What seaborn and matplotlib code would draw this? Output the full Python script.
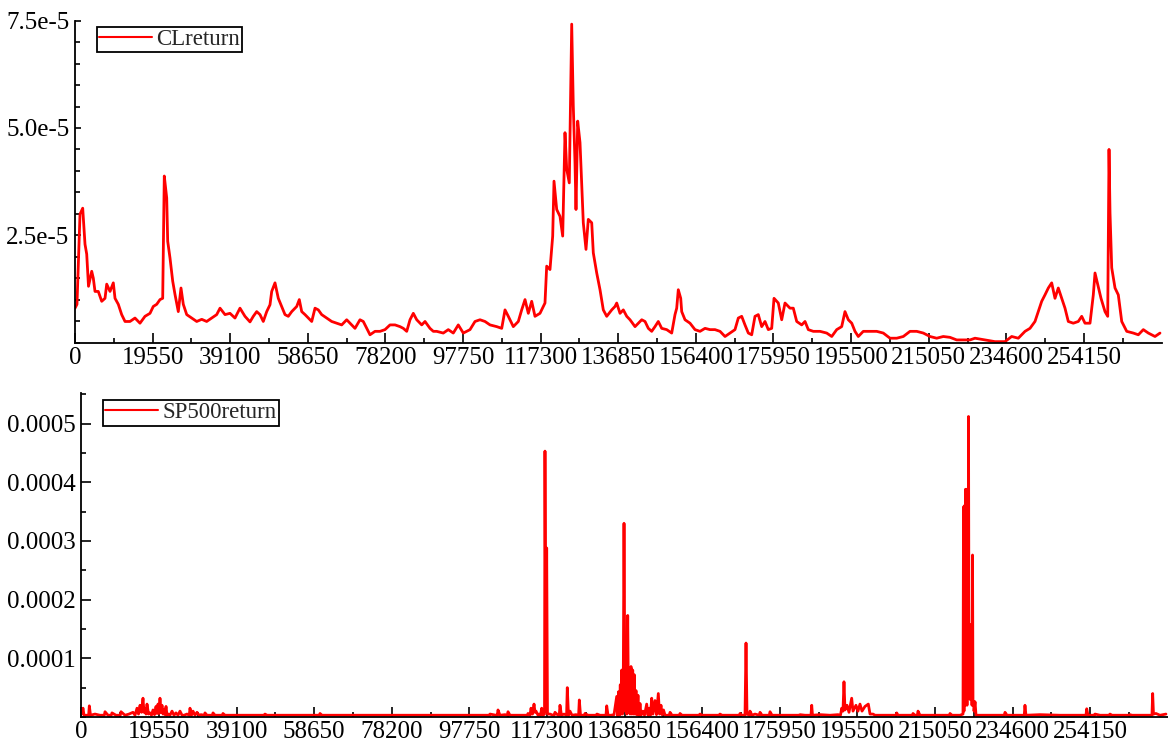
import matplotlib
matplotlib.use("Agg")
import matplotlib.pyplot as plt
import numpy as np
import pandas as pd
import seaborn as sns
from matplotlib.ticker import FixedLocator, MultipleLocator

# ---- data -------------------------------------------------------------
# CL return conditional variance (observation number, value in 1e-5)
cl_obs = [0, 500, 1260, 1940, 2520, 2950, 3400, 4210, 4610, 5040, 5870, 6730, 7560, 7990, 8820, 9650,
          10080, 10910, 11760, 12600, 13850, 15110, 16370, 17630, 18890, 19720, 20580, 21410, 22090,
          22490, 23100, 23350, 23930, 24610, 25190, 26020, 26700, 27280, 28140, 29400, 30660, 31920,
          33170, 34430, 35690, 36530, 37790, 39040, 40300, 41560, 42820, 44080, 44910, 45770, 46600,
          47430, 48290, 49120, 49550, 50380, 51210, 52070, 52900, 53730, 54590, 55850, 56500, 57110,
          57940, 58770, 59630, 60460, 61290, 62140, 63400, 64660, 65920, 67180, 68440, 69270, 70530,
          71790, 72620, 73480, 74310, 75570, 76830, 78090, 79350, 80610, 81870, 82700, 83560, 84390,
          85220, 86080, 87340, 88170, 89420, 90260, 91110, 92770, 94030, 95290, 96550, 97810, 99500,
          100760, 102020, 103280, 104540, 106230, 107490, 108320, 109150, 110410, 111670, 112520,
          113360, 114190, 115040, 115870, 117130, 118390, 118820, 119650, 120330, 120660, 121340,
          122170, 122850, 123430, 123860, 124510, 125120, 125520, 125950, 126200, 126630, 127210,
          127640, 128040, 128720, 129300, 130160, 130560, 131420, 132250, 133080, 133940, 135200,
          136030, 136460, 137290, 138120, 138980, 139810, 141070, 141900, 142760, 143590, 144420,
          145270, 146100, 146930, 147790, 149050, 150310, 151140, 151570, 151970, 152580, 152830,
          153660, 154920, 156180, 157440, 158700, 159960, 161220, 162480, 163740, 164990, 166250,
          167090, 167940, 168770, 169610, 170460, 171290, 172120, 172980, 173810, 174640, 175500,
          176080, 177160, 178020, 178850, 180110, 180940, 181800, 183060, 183890, 184720, 185980,
          187670, 189360, 190620, 191870, 193130, 193960, 194800, 195660, 196480, 197310, 198570,
          200260, 201950, 203610, 205300, 206990, 208650, 210340, 212030, 213690, 215370, 217060,
          218720, 220410, 222100, 223760, 225450, 226710, 229230, 231750, 234270, 235950, 237620,
          239310, 240560, 241820, 242660, 243510, 244340, 245180, 246030, 246860, 247690, 248550,
          249380, 250210, 251470, 252730, 253590, 254420, 255680, 256510, 256940, 257620, 258450,
          259460, 260140, 260470, 260720, 261150, 261980, 262810, 263670, 264930, 266590, 267850,
          269110, 270370, 272050, 273310]
cl_ret = [0.80, 0.89, 2.99, 3.13, 2.29, 2.06, 1.31, 1.66, 1.50, 1.19, 1.19, 0.96, 1.03, 1.36, 1.19, 1.39,
          1.03, 0.89, 0.65, 0.49, 0.49, 0.57, 0.45, 0.61, 0.68, 0.84, 0.89, 1.00, 1.03,
          3.88, 3.37, 2.36, 1.97, 1.43, 1.12, 0.72, 1.27, 0.89, 0.65, 0.57, 0.49, 0.54,
          0.49, 0.57, 0.65, 0.80, 0.65, 0.68, 0.57, 0.80, 0.61, 0.48, 0.61, 0.72, 0.65,
          0.49, 0.72, 0.88, 1.19, 1.39, 1.03, 0.84, 0.65, 0.61, 0.72, 0.84, 1.00, 0.72,
          0.65, 0.57, 0.49, 0.80, 0.76, 0.65, 0.57, 0.49, 0.45, 0.41, 0.53, 0.45, 0.33,
          0.53, 0.49, 0.33, 0.18, 0.26, 0.26, 0.30, 0.41, 0.41, 0.37, 0.33, 0.26, 0.53,
          0.68, 0.53, 0.41, 0.49, 0.33, 0.26, 0.26, 0.22, 0.30, 0.22, 0.41, 0.22, 0.30,
          0.49, 0.53, 0.49, 0.41, 0.37, 0.33, 0.76, 0.61, 0.37, 0.49, 0.76,
          1.00, 0.68, 0.96, 0.61, 0.68, 0.92, 1.78, 1.70, 2.48, 3.76, 3.10,
          2.94, 2.48, 4.89, 4.04, 3.72, 7.42, 5.51, 4.19, 3.10, 5.16, 4.66,
          3.72, 2.79, 2.17, 2.87, 2.79, 2.09, 1.62, 1.23, 0.76, 0.61, 0.76,
          0.84, 0.92, 0.68, 0.76, 0.61, 0.53, 0.37, 0.45, 0.53, 0.49, 0.33,
          0.26, 0.37, 0.49, 0.33, 0.30, 0.22, 0.65, 0.80, 1.23, 1.03, 0.72,
          0.53, 0.45, 0.30, 0.26, 0.33, 0.30, 0.30, 0.26, 0.14, 0.22, 0.30,
          0.57, 0.61, 0.41, 0.22, 0.18, 0.61, 0.65, 0.37, 0.49, 0.30, 0.33,
          1.03, 0.92, 0.53, 0.92, 0.80, 0.80, 0.49, 0.41, 0.49, 0.30, 0.26,
          0.26, 0.22, 0.14, 0.30, 0.37, 0.72, 0.53, 0.45, 0.26, 0.14, 0.26,
          0.26, 0.26, 0.22, 0.10, 0.10, 0.14, 0.26, 0.26, 0.22, 0.14, 0.10,
          0.14, 0.12, 0.06, 0.06, 0.06, 0.10, 0.06, 0.02, 0.02, 0.14, 0.10,
          0.26, 0.33, 0.49, 0.72, 0.96, 1.11, 1.27, 1.39, 1.03, 1.27, 1.03,
          0.80, 0.49, 0.45, 0.49, 0.61, 0.45, 0.45, 1.11, 1.62, 1.35, 1.03,
          0.72, 0.61, 4.50, 3.02, 1.74, 1.27, 1.11, 0.49, 0.26, 0.22, 0.18,
          0.30, 0.22, 0.14, 0.22]

# SP500 return conditional variance (observation number, value in 1e-4)
sp_obs = [0, 430, 680, 1850, 2020, 2320, 3450, 4710, 5800, 5970,
          6730, 7550, 7730, 8740, 9820, 10000, 11010, 12020, 13020, 13530,
          14030, 14410, 14790, 15170, 15540, 15790, 16050, 16300, 16550, 16930,
          17310, 17680, 18060, 18440, 18820, 19070, 19320, 19570, 19820, 20080,
          20330, 20580, 20830, 21080, 21340, 21590, 21970, 22340, 22850, 23350,
          23850, 24360, 24860, 25370, 25870, 26630, 27200, 27380, 27760, 28140,
          28640, 29150, 29650, 30150, 30980, 31160, 31660, 32420, 33000, 33180,
          33680, 35510, 35690, 36200, 38720, 41240, 46090, 46270, 46780, 52570,
          59950, 60130, 60630, 67690, 75250, 85320, 94140, 100440, 102780, 102960,
          104470, 104790, 104970, 105470, 106730, 107310, 107490, 107990, 110510, 112340,
          112520, 113030, 113280, 113660, 114040, 114290, 114540, 115050, 115300, 115670,
          115980, 116300, 116680, 116800, 117050, 117230, 117430, 118060, 118820, 119140,
          119320, 120080, 120400, 120580, 120960, 121590, 122240, 122420, 122720, 123100,
          123600, 124610, 125270, 125450, 125750, 126700, 126880, 127640, 128650, 129720,
          129900, 130660, 131420, 132170, 132350, 132680, 133430, 134190, 134870, 135070,
          135320, 135520, 135770, 135950, 136130, 136330, 136530, 136710, 136960, 137210,
          137410, 137640, 137840, 138040, 138220, 138470, 138670, 138900, 139100, 139300,
          139480, 139730, 139930, 140230, 140480, 140740, 140990, 141490, 141870, 142420,
          142750, 143130, 143380, 143680, 144010, 144510, 144890, 145350, 145650, 146030,
          146280, 146660, 147040, 148120, 148300, 148800, 149560, 150640, 150820, 151320,
          153340, 155670, 155850, 156360, 158370, 160710, 160890, 161400, 163410, 165750,
          165930, 166440, 167190, 167440, 167690, 168270, 168450, 168950, 169710, 170790,
          170970, 171470, 172230, 173310, 173490, 173990, 176000, 178520, 180860, 181040,
          182300, 183810, 183990, 184190, 186080, 188600, 190610, 191240, 191550, 191870,
          192120, 192370, 192880, 193380, 194060, 194390, 195140, 195650, 196150, 196660,
          197410, 198250, 198680, 199430, 199940, 201200, 203720, 205220, 205400, 205730,
          209330, 209510, 210010, 210600, 210770, 211270, 215050, 218650, 218830, 219330,
          221350, 222100, 222230, 222350, 222480, 222610, 222730, 222860, 222990, 223110,
          223240, 223360, 223490, 223620, 223740, 223870, 223990, 224120, 224250, 224370,
          224500, 224620, 224750, 224880, 225130, 225380, 227640, 231420, 232500, 232680,
          233180, 237530, 237710, 237960, 241490, 246530, 253080, 253260, 253580, 255170,
          255350, 256610, 258950, 259130, 259630, 263990, 264170, 264670, 266680, 269700,
          269880, 270080, 270710, 271720, 273230]
sp_ret = [0.05, 0.15, 0.03, 0.03, 0.19, 0.03, 0.05, 0.03, 0.03, 0.09,
          0.03, 0.03, 0.07, 0.03, 0.03, 0.09, 0.03, 0.05, 0.08, 0.03,
          0.15, 0.05, 0.20, 0.08, 0.32, 0.08, 0.15, 0.05, 0.22, 0.05,
          0.07, 0.03, 0.12, 0.04, 0.18, 0.06, 0.22, 0.06, 0.32, 0.08,
          0.20, 0.05, 0.12, 0.04, 0.18, 0.03, 0.05, 0.03, 0.10, 0.03,
          0.07, 0.03, 0.10, 0.03, 0.03, 0.05, 0.03, 0.15, 0.03, 0.10,
          0.03, 0.08, 0.03, 0.04, 0.03, 0.07, 0.03, 0.03, 0.03, 0.07,
          0.03, 0.03, 0.06, 0.03, 0.03, 0.03, 0.03, 0.05, 0.03, 0.03,
          0.03, 0.06, 0.03, 0.03, 0.03, 0.03, 0.03, 0.03, 0.03, 0.05,
          0.03, 0.03, 0.12, 0.03, 0.04, 0.03, 0.09, 0.03, 0.03, 0.03,
          0.06, 0.03, 0.15, 0.05, 0.22, 0.08, 0.10, 0.03, 0.05, 0.03,
          0.15, 0.03, 0.05, 4.53, 0.10, 2.88, 0.05, 0.05, 0.03, 0.03,
          0.08, 0.03, 0.03, 0.20, 0.03, 0.05, 0.03, 0.50, 0.03, 0.10,
          0.03, 0.04, 0.03, 0.29, 0.03, 0.03, 0.06, 0.03, 0.03, 0.03,
          0.05, 0.03, 0.03, 0.03, 0.19, 0.03, 0.03, 0.04, 0.35, 0.02,
          0.43, 0.03, 0.55, 0.05, 0.80, 0.05, 0.70, 3.30, 0.10, 0.75,
          0.05, 1.73, 0.10, 0.65, 0.05, 0.86, 0.05, 0.80, 0.05, 0.72,
          0.05, 0.45, 0.04, 0.37, 0.03, 0.23, 0.03, 0.10, 0.03, 0.22,
          0.03, 0.15, 0.03, 0.32, 0.05, 0.28, 0.04, 0.40, 0.05, 0.20,
          0.04, 0.12, 0.03, 0.03, 0.08, 0.03, 0.03, 0.03, 0.06, 0.03,
          0.03, 0.03, 0.05, 0.03, 0.03, 0.03, 0.05, 0.03, 0.03, 0.03,
          0.06, 0.03, 0.03, 1.26, 0.05, 0.03, 0.10, 0.03, 0.05, 0.03,
          0.08, 0.03, 0.03, 0.03, 0.09, 0.03, 0.03, 0.03, 0.03, 0.04,
          0.03, 0.03, 0.20, 0.03, 0.04, 0.03, 0.04, 0.03, 0.15, 0.10,
          0.60, 0.12, 0.20, 0.08, 0.32, 0.10, 0.20, 0.10, 0.22, 0.10,
          0.18, 0.22, 0.05, 0.05, 0.03, 0.03, 0.03, 0.03, 0.07, 0.03,
          0.03, 0.06, 0.03, 0.03, 0.10, 0.03, 0.03, 0.03, 0.06, 0.03,
          0.03, 0.05, 3.58, 0.10, 3.60, 0.20, 3.88, 0.30, 3.88, 0.20,
          3.88, 0.50, 5.12, 0.50, 1.57, 0.30, 1.57, 0.30, 1.20, 0.20,
          2.76, 0.20, 0.26, 0.10, 0.26, 0.03, 0.03, 0.03, 0.03, 0.08,
          0.03, 0.03, 0.20, 0.03, 0.04, 0.03, 0.03, 0.14, 0.03, 0.03,
          0.05, 0.03, 0.03, 0.05, 0.03, 0.03, 0.04, 0.03, 0.03, 0.03,
          0.40, 0.05, 0.06, 0.03, 0.05]

x_tick_values = [0, 19550, 39100, 58650, 78200, 97750, 117300, 136850,
                 156400, 175950, 195500, 215050, 234600, 254150]
cl_tick_values = [2.5e-5, 5.0e-5, 7.5e-5]
cl_tick_labels = ["2.5e-5", "5.0e-5", "7.5e-5"]
sp_tick_values = [0.0001, 0.0002, 0.0003, 0.0004, 0.0005]
sp_tick_labels = ["0.0001", "0.0002", "0.0003", "0.0004", "0.0005"]

cl_df = pd.DataFrame({"obs": cl_obs, "CLreturn": np.array(cl_ret) * 1e-5})
sp_df = pd.DataFrame({"obs": sp_obs, "SP500return": np.array(sp_ret) * 1e-4})

# ---- style ------------------------------------------------------------
sns.set_theme(style="ticks")
plt.rcParams["font.family"] = ["Liberation Serif", "DejaVu Serif"]
TICK_FS = 18
LEGEND_FS = 16.5

W, H = 1168, 752
fig = plt.figure(figsize=(W / 100, H / 100), dpi=100)
fig.patch.set_facecolor("white")


def axes_px(left, top, right, bottom):
    return fig.add_axes([left / W, 1 - bottom / H, (right - left) / W, (bottom - top) / H])


XMAX = 273700
ax1 = axes_px(75, 20.7, 75 + XMAX / 251.9, 342.5)
ax2 = axes_px(81.3, 393, 81.3 + XMAX / 251.9, 717)

sns.lineplot(data=cl_df, x="obs", y="CLreturn", ax=ax1, color="#ff0000",
             linewidth=2.0, estimator=None, sort=False, label="CLreturn")
sns.lineplot(data=sp_df, x="obs", y="SP500return", ax=ax2, color="#ff0000",
             linewidth=2.0, estimator=None, sort=False, label="SP500return")

ax1.set_ylim(0, 7.5e-5)
ax2.set_ylim(0, 0.000552)

for ax, yt, yl, yminor, ymaj_len in [(ax1, cl_tick_values, cl_tick_labels, 0.5e-5, 4.0),
                                     (ax2, sp_tick_values, sp_tick_labels, 0.5e-4, 7.0)]:
    ax.set_xlim(0, XMAX)
    ax.set_facecolor("white")
    ax.set_xlabel("")
    ax.set_ylabel("")
    ax.xaxis.set_major_locator(FixedLocator(x_tick_values))
    ax.set_xticklabels([str(v) for v in x_tick_values])
    ax.xaxis.set_minor_locator(FixedLocator([v + 9775 for v in x_tick_values]))
    ax.yaxis.set_major_locator(FixedLocator(yt))
    ax.set_yticklabels(yl)
    ax.yaxis.set_minor_locator(MultipleLocator(yminor))
    for side in ("top", "right"):
        ax.spines[side].set_visible(False)
    for side in ("left", "bottom"):
        ax.spines[side].set_color("black")
        ax.spines[side].set_linewidth(1.3)
    ax.tick_params(axis="both", which="both", direction="in", colors="black",
                   labelsize=TICK_FS, width=1.2)
    ax.tick_params(axis="x", which="major", length=7, pad=3)
    ax.tick_params(axis="x", which="minor", length=3.5)
    ax.tick_params(axis="y", which="major", length=ymaj_len, pad=4)
    ax.tick_params(axis="y", which="minor", length=3.5)
    for lab in ax.get_xticklabels() + ax.get_yticklabels():
        lab.set_color("black")

for ax, anchor in [(ax1, (96.7, 26.7)), (ax2, (102.7, 400))]:
    leg = ax.legend(loc="upper left", bbox_to_anchor=(anchor[0] / W, 1 - anchor[1] / H),
                    bbox_transform=fig.transFigure, borderaxespad=0, frameon=True,
                    fancybox=False, shadow=False, edgecolor="black", framealpha=1,
                    fontsize=LEGEND_FS, handlelength=2.3, handletextpad=0.2, borderpad=0.1)
    leg.get_frame().set_linewidth(1.3)
    for line in leg.get_lines():
        line.set_linewidth(1.5)

fig.savefig("out.png", dpi=100, facecolor="white")
